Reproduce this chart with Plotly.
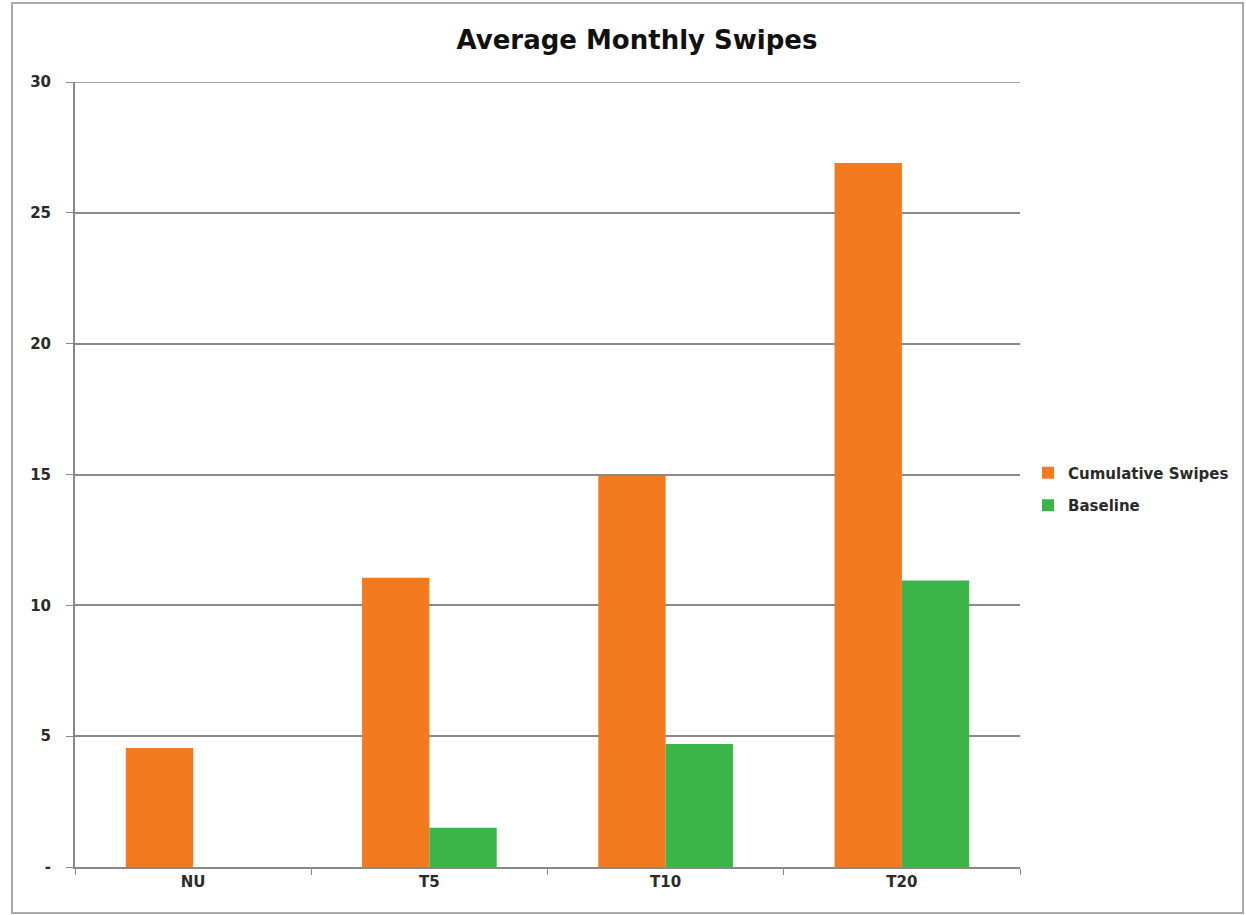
import plotly.graph_objects as go

categories = ["NU", "T5", "T10", "T20"]
cumulative = [4.55, 11.05, 14.95, 26.9]
baseline = [0, 1.5, 4.7, 10.95]
y_tickvals = [0, 5, 10, 15, 20, 25, 30]
y_ticktext = ["-", "5", "10", "15", "20", "25", "30"]

FONT = "DejaVu Sans"
TXT = "#2a2a2a"

fig = go.Figure()
fig.add_trace(go.Bar(x=categories, y=cumulative, name="Cumulative Swipes", legendgroup="a",
                     marker=dict(color="#F37A1F", line=dict(width=0))))
fig.add_trace(go.Bar(x=categories, y=baseline, name="Baseline", legendgroup="b",
                     marker=dict(color="#3BB54A", line=dict(width=0))))

L, R, T, B = 75, 1020, 82, 867
W, H = 1246, 915
pw, ph = R - L, B - T

tickfont = dict(family=FONT, size=15, color=TXT, weight=600)

fig.update_layout(
    width=W, height=H,
    margin=dict(l=L, r=W - R, t=T, b=H - B, autoexpand=False),
    paper_bgcolor="white", plot_bgcolor="white",
    barmode="group", bargap=0.43, bargroupgap=0,
    font=dict(family=FONT, color=TXT, size=15),
    title=dict(text="<b>Average Monthly Swipes</b>", x=637 / W, xanchor="center",
               y=1 - 40 / H, yanchor="middle",
               font=dict(family=FONT, size=26, color="#111")),
    legend=dict(x=(1028 - L) / pw, y=(B - 489) / ph, xanchor="left", yanchor="middle",
                font=dict(family=FONT, size=15, color=TXT, weight=600),
                bgcolor="rgba(0,0,0,0)", itemwidth=30, tracegroupgap=10),
    xaxis=dict(showgrid=False, showline=True, linecolor="#888", linewidth=2,
               ticks="outside", tickson="boundaries", ticklen=6, tickcolor="#888",
               tickfont=tickfont),
    yaxis=dict(range=[0, 30], tickvals=y_tickvals, ticktext=y_ticktext,
               showgrid=True, gridcolor="#8a8a8a", gridwidth=1.5,
               showline=True, linecolor="#888", linewidth=2,
               ticks="outside", ticklen=7, tickcolor="#888", zeroline=False,
               tickfont=tickfont, ticklabelstandoff=12),
    shapes=[
        dict(type="rect", xref="paper", yref="paper",
             x0=(12 - L) / pw, x1=(1243 - L) / pw,
             y0=(B - 913) / ph, y1=(B - 3) / ph,
             line=dict(color="#aaaaaa", width=2), fillcolor="rgba(0,0,0,0)", layer="below"),
        dict(type="line", xref="paper", yref="y", x0=0, x1=1, y0=30, y1=30,
             line=dict(color="#8a8a8a", width=1.5), layer="below"),
    ],
)

fig.write_html("out.html", config={"displayModeBar": False},
               post_script="document.body.style.margin='0';")
